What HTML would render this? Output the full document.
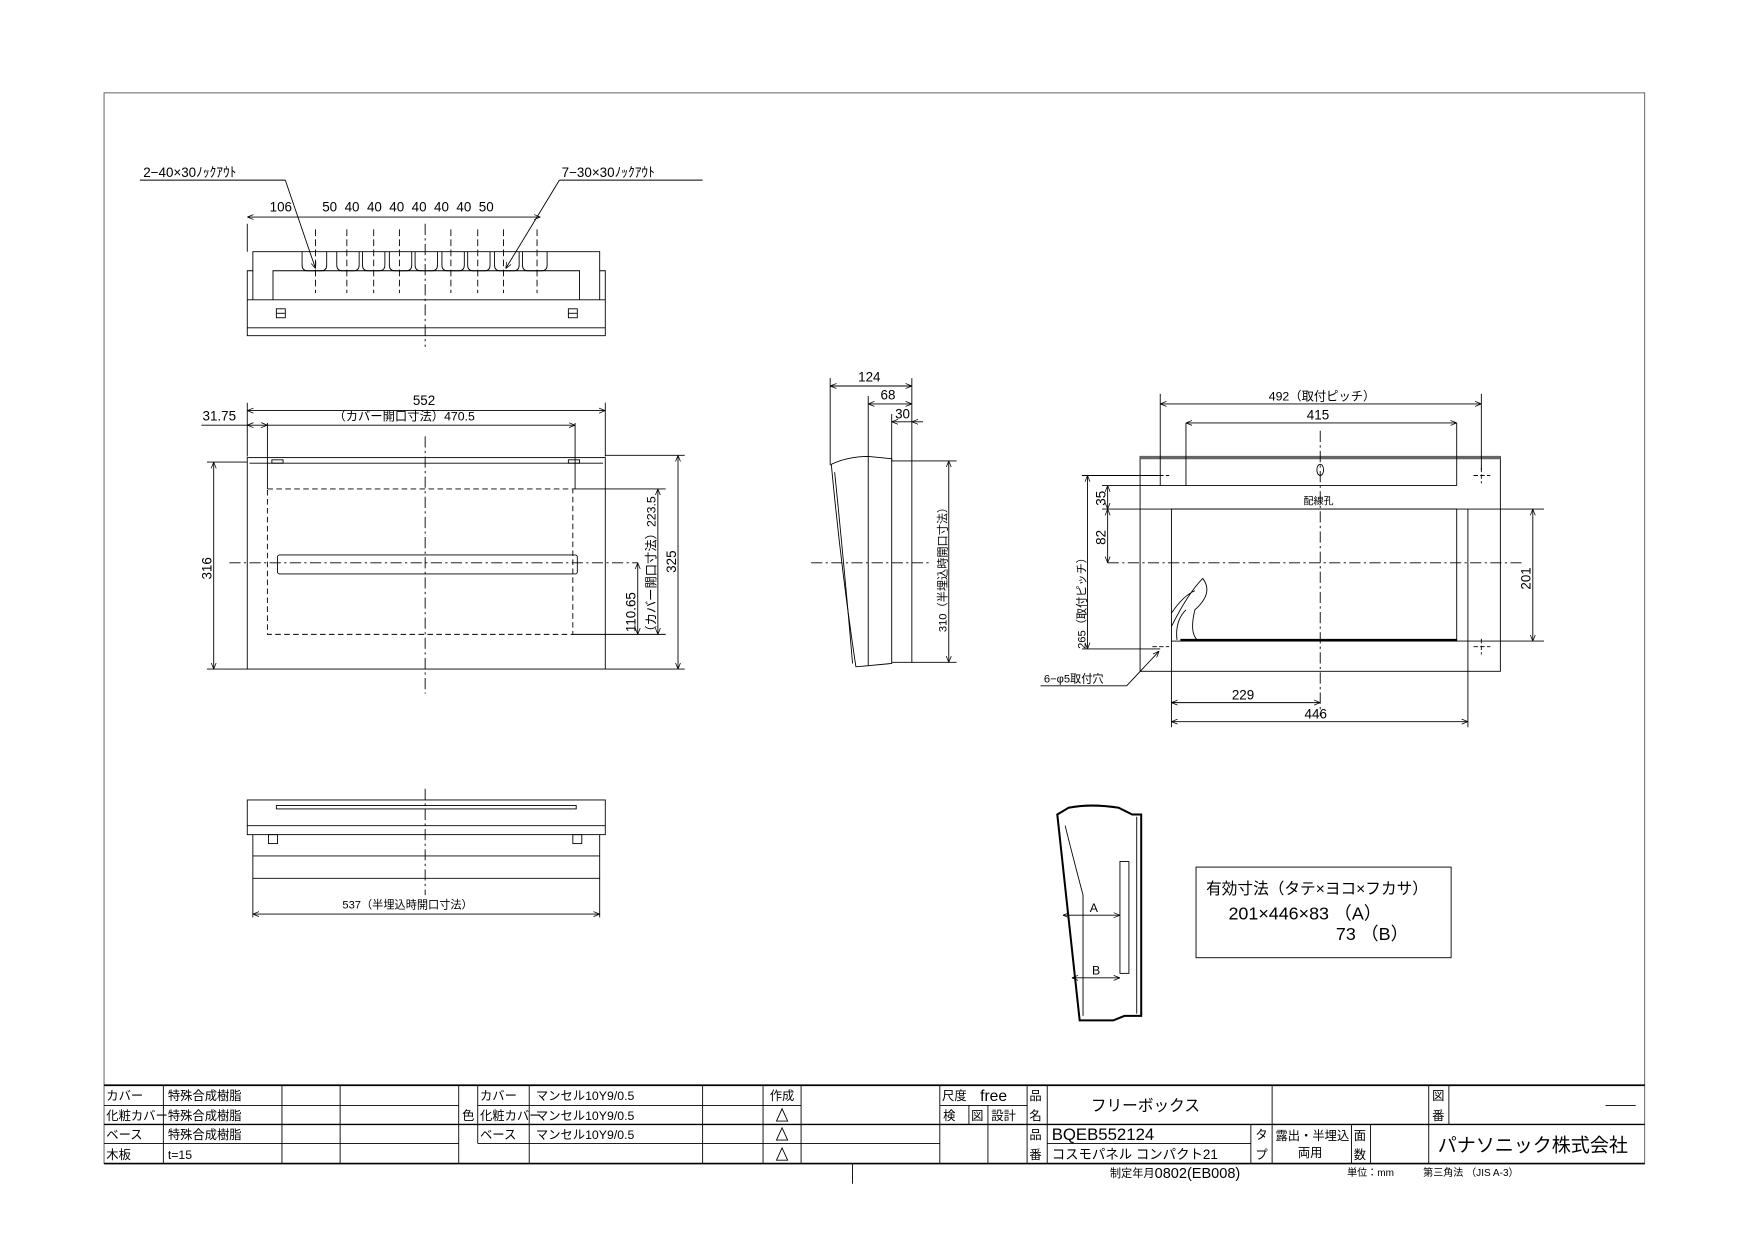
<!DOCTYPE html>
<html><head><meta charset="utf-8"><style>
html,body{margin:0;padding:0;background:#fff;}
svg{display:block;}
text{font-family:"Liberation Sans","Noto Sans CJK JP",sans-serif;fill:#000;}
</style></head><body>
<svg width="1755" height="1240" viewBox="0 0 1568.6 1108.3" xmlns="http://www.w3.org/2000/svg">
<defs>
<marker id="a" viewBox="0 0 10 10" refX="10" refY="5" markerWidth="7" markerHeight="7" orient="auto-start-reverse"><path d="M0,1 L10,5 L0,9" fill="none" stroke="#000" stroke-width="1.2"/></marker>
</defs>
<g fill="none" stroke="#000" stroke-width="0.8">
<rect x="93" y="83" width="1377" height="957" stroke="#555"/>

<!-- TOP VIEW -->
<path d="M221,300 L221,242 L226,242 L226,225 L536,225 L536,242 L541,242 L541,300 Z"/>
<path d="M226,242 L226,268 M536,242 L536,268 M244,268 L244,242 L518,242 L518,268"/>
<line x1="221" y1="293" x2="541" y2="293"/>
<line x1="221" y1="268" x2="541" y2="268"/>
<path d="M270,225 v12 q0,5 5,5 h12 q5,0 5,-5 v-12 M301,225 v12 q0,5 5,5 h10 q5,0 5,-5 v-12 M324,225 v12 q0,5 5,5 h10 q5,0 5,-5 v-12 M348,225 v12 q0,5 5,5 h10 q5,0 5,-5 v-12 M371,225 v12 q0,5 5,5 h10 q5,0 5,-5 v-12 M395,225 v12 q0,5 5,5 h10 q5,0 5,-5 v-12 M418,225 v12 q0,5 5,5 h10 q5,0 5,-5 v-12 M442,225 v12 q0,5 5,5 h12 q5,0 5,-5 v-12 M467,225 v12 q0,5 5,5 h12 q5,0 5,-5 v-12"/>
<rect x="247" y="276" width="8" height="8"/><line x1="247" y1="280" x2="255" y2="280"/>
<rect x="508" y="276" width="8" height="8"/><line x1="508" y1="280" x2="516" y2="280"/>
<line x1="380" y1="200" x2="380" y2="310" stroke-dasharray="10,3,2,3"/>
<g stroke-dasharray="6,3">
<line x1="282" y1="205" x2="282" y2="262"/><line x1="310" y1="205" x2="310" y2="262"/><line x1="334" y1="205" x2="334" y2="262"/><line x1="357" y1="205" x2="357" y2="262"/><line x1="403" y1="205" x2="403" y2="262"/><line x1="427" y1="205" x2="427" y2="262"/><line x1="450" y1="205" x2="450" y2="262"/><line x1="480" y1="205" x2="480" y2="262"/>
</g>
<line x1="221" y1="200" x2="221" y2="225"/>
<line x1="221" y1="194" x2="282" y2="194" marker-start="url(#a)"/>
<line x1="282" y1="194" x2="483" y2="194" marker-end="url(#a)"/>
<line x1="125" y1="161" x2="255" y2="161"/><line x1="255" y1="161" x2="282" y2="240" marker-end="url(#a)"/>
<line x1="500" y1="161" x2="628" y2="161"/><line x1="500" y1="161" x2="452" y2="240" marker-end="url(#a)"/>

<!-- FRONT VIEW -->
<rect x="221" y="409" width="320" height="189"/>
<line x1="223" y1="414" x2="539" y2="414"/>
<rect x="243" y="411" width="10" height="3"/><rect x="508" y="411" width="10" height="3"/>
<rect x="239" y="437" width="273" height="130" stroke-dasharray="5,3"/>
<rect x="248" y="496" width="268" height="17" rx="2"/>
<line x1="380" y1="390" x2="380" y2="620" stroke-dasharray="10,3,2,3"/>
<line x1="205" y1="503" x2="570" y2="503" stroke-dasharray="10,3,2,3"/>
<line x1="221" y1="360" x2="221" y2="408"/><line x1="541" y1="360" x2="541" y2="408"/>
<line x1="221" y1="367" x2="541" y2="367" marker-start="url(#a)" marker-end="url(#a)"/>
<line x1="239" y1="378" x2="239" y2="437"/><line x1="514" y1="378" x2="514" y2="437"/>
<line x1="180" y1="380" x2="221" y2="380"/>
<line x1="221" y1="380" x2="239" y2="380" marker-start="url(#a)" marker-end="url(#a)"/>
<line x1="239" y1="380" x2="514" y2="380" marker-end="url(#a)"/>
<line x1="185" y1="413" x2="221" y2="413"/><line x1="185" y1="598" x2="221" y2="598"/>
<line x1="191" y1="413" x2="191" y2="598" marker-start="url(#a)" marker-end="url(#a)"/>
<line x1="541" y1="407" x2="612" y2="407"/><line x1="541" y1="598" x2="612" y2="598"/>
<line x1="606" y1="407" x2="606" y2="598" marker-start="url(#a)" marker-end="url(#a)"/>
<line x1="512" y1="437" x2="595" y2="437"/><line x1="512" y1="567" x2="595" y2="567"/>
<line x1="588" y1="437" x2="588" y2="567" marker-start="url(#a)" marker-end="url(#a)"/>
<line x1="570" y1="503" x2="570" y2="567" marker-start="url(#a)" marker-end="url(#a)"/>

<!-- SIDE VIEW -->
<path d="M743,415 Q758,408 776,408 L776,595 L765,596 Q752,510 743,415 Z"/>
<path d="M746,422 Q755,510 762,593"/>
<path d="M776,408 L797,410 L797,593 L776,595"/>
<path d="M797,412 L815,412 L815,592 L797,592"/>
<line x1="742" y1="338" x2="742" y2="416"/><line x1="776" y1="354" x2="776" y2="408"/><line x1="797" y1="370" x2="797" y2="412"/><line x1="815" y1="338" x2="815" y2="412"/>
<line x1="742" y1="345" x2="815" y2="345" marker-start="url(#a)" marker-end="url(#a)"/>
<line x1="776" y1="361" x2="815" y2="361" marker-start="url(#a)" marker-end="url(#a)"/>
<line x1="797" y1="377" x2="815" y2="377" marker-start="url(#a)"/><line x1="815" y1="377" x2="825" y2="377" marker-start="url(#a)"/>
<line x1="815" y1="412" x2="855" y2="412"/><line x1="815" y1="592" x2="855" y2="592"/>
<line x1="848" y1="412" x2="848" y2="592" marker-start="url(#a)" marker-end="url(#a)"/>
<line x1="725" y1="503" x2="830" y2="503" stroke-dasharray="10,3,2,3"/>

<!-- RIGHT (BACK) VIEW -->
<rect x="1019" y="408" width="322" height="192"/>
<line x1="1019" y1="409" x2="1341" y2="409" stroke-width="3" stroke="#666"/>
<line x1="1019" y1="434" x2="1302" y2="434"/>
<line x1="1060" y1="378" x2="1060" y2="434"/><line x1="1302" y1="378" x2="1302" y2="434"/>
<rect x="1047" y="455" width="255" height="118"/>
<line x1="1055" y1="572" x2="1302" y2="572" stroke-width="2"/>
<path d="M1047,560 Q1062,530 1075,517 Q1085,530 1068,545 Q1063,565 1070,572 M1047,548 Q1058,532 1068,528 M1052,572 Q1050,555 1060,545"/>
<line x1="1180" y1="385" x2="1180" y2="640" stroke-dasharray="10,3,2,3"/>
<line x1="990" y1="503" x2="1360" y2="503" stroke-dasharray="10,3,2,3"/>
<ellipse cx="1180" cy="420" rx="3" ry="5"/>
<g stroke-dasharray="4,2">
<line x1="1030" y1="425" x2="1045" y2="425"/><line x1="1317" y1="425" x2="1332" y2="425"/><line x1="1324" y1="418" x2="1324" y2="432"/>
<line x1="1030" y1="578" x2="1045" y2="578"/><line x1="1317" y1="578" x2="1332" y2="578"/><line x1="1324" y1="571" x2="1324" y2="585"/>
</g>
<line x1="1037" y1="352" x2="1037" y2="434"/><line x1="1324" y1="352" x2="1324" y2="420"/>
<line x1="1037" y1="361" x2="1324" y2="361" marker-start="url(#a)" marker-end="url(#a)"/>
<line x1="1060" y1="378" x2="1302" y2="378" marker-start="url(#a)" marker-end="url(#a)"/>
<line x1="967" y1="425" x2="1037" y2="425"/><line x1="967" y1="580" x2="1037" y2="580"/>
<line x1="972" y1="425" x2="972" y2="580" marker-start="url(#a)" marker-end="url(#a)"/>
<line x1="985" y1="434" x2="1019" y2="434"/><line x1="985" y1="455" x2="1380" y2="455"/>
<line x1="990" y1="434" x2="990" y2="455" marker-start="url(#a)" marker-end="url(#a)"/>
<line x1="990" y1="455" x2="990" y2="503" marker-start="url(#a)" marker-end="url(#a)"/>
<line x1="1302" y1="573" x2="1380" y2="573"/>
<line x1="1370" y1="455" x2="1370" y2="573" marker-start="url(#a)" marker-end="url(#a)"/>
<line x1="1047" y1="573" x2="1047" y2="650"/><line x1="1312" y1="455" x2="1312" y2="650"/>
<line x1="1047" y1="628" x2="1180" y2="628" marker-start="url(#a)" marker-end="url(#a)"/>
<line x1="1047" y1="645" x2="1312" y2="645" marker-start="url(#a)" marker-end="url(#a)"/>
<line x1="930" y1="613" x2="1007" y2="613"/><line x1="1007" y1="613" x2="1036" y2="582" marker-end="url(#a)"/>

<!-- BOTTOM VIEW -->
<rect x="221" y="715" width="320" height="31"/>
<rect x="247" y="720" width="268" height="3"/>
<line x1="221" y1="738" x2="541" y2="738"/>
<rect x="240" y="746" width="8" height="8"/><rect x="512" y="746" width="8" height="8"/>
<path d="M226,746 L226,785 L536,785 L536,746 M226,765 L536,765"/>
<line x1="380" y1="705" x2="380" y2="800" stroke-dasharray="10,3,2,3"/>
<line x1="226" y1="785" x2="226" y2="820"/><line x1="536" y1="785" x2="536" y2="820"/>
<line x1="226" y1="817" x2="536" y2="817" marker-start="url(#a)" marker-end="url(#a)"/>

<!-- SECTION -->
<path d="M945,728 L955,722 Q975,718 1000,722 L1012,728 L1020,728 L1020,908 L1005,908 L995,912 L965,912 Q955,820 945,728 Z" stroke-width="1.8"/>
<path d="M952,738 Q960,770 968,800 L968,908 M1016,730 L1016,906"/>
<rect x="1001" y="770" width="8" height="100"/>
<line x1="950" y1="818" x2="1001" y2="818" marker-start="url(#a)" marker-end="url(#a)"/>
<line x1="958" y1="874" x2="1001" y2="874" marker-start="url(#a)" marker-end="url(#a)"/>

<rect x="1069" y="775" width="228" height="81"/>

<!-- TITLE BLOCK -->
<line x1="93" y1="970" x2="1470" y2="970" stroke-width="1.5"/>
<line x1="93" y1="1040" x2="1470" y2="1040" stroke-width="1.5"/>
<line x1="93" y1="988" x2="410" y2="988"/><line x1="427" y1="988" x2="682" y2="988"/><line x1="682" y1="988" x2="716" y2="988"/>
<line x1="93" y1="1005" x2="918" y2="1005" stroke-width="1.3"/><line x1="918" y1="1005" x2="1470" y2="1005" stroke-width="1.3"/>
<line x1="93" y1="1022" x2="410" y2="1022"/><line x1="427" y1="1022" x2="840" y2="1022"/><line x1="936" y1="1022" x2="1118" y2="1022"/>
<line x1="840" y1="988" x2="918" y2="988"/>
<g>
<line x1="146" y1="970" x2="146" y2="1040"/><line x1="252" y1="970" x2="252" y2="1040"/><line x1="304" y1="970" x2="304" y2="1040"/><line x1="410" y1="970" x2="410" y2="1040"/><line x1="427" y1="970" x2="427" y2="1022"/><line x1="473" y1="970" x2="473" y2="1040"/><line x1="628" y1="970" x2="628" y2="1040"/><line x1="682" y1="970" x2="682" y2="1040"/><line x1="716" y1="970" x2="716" y2="1040"/><line x1="840" y1="970" x2="840" y2="1040"/><line x1="866" y1="988" x2="866" y2="1005"/><line x1="883" y1="988" x2="883" y2="1040"/><line x1="918" y1="970" x2="918" y2="1040"/><line x1="936" y1="970" x2="936" y2="1040"/><line x1="1118" y1="1005" x2="1118" y2="1040"/><line x1="1137" y1="970" x2="1137" y2="1040"/><line x1="1208" y1="1005" x2="1208" y2="1040"/><line x1="1225" y1="1005" x2="1225" y2="1040"/><line x1="1277" y1="970" x2="1277" y2="1040"/><line x1="1295" y1="970" x2="1295" y2="1005"/>
</g>
<line x1="1435" y1="988" x2="1462" y2="988"/>
<line x1="762" y1="1040" x2="762" y2="1058"/>
<path d="M694,1002 L699,991 L704,1002 Z M694,1019 L699,1008 L704,1019 Z M694,1037 L699,1026 L704,1037 Z"/>
</g>

<!-- TEXT -->
<g font-size="12">
<text x="128" y="158">2−40×30ﾉｯｸｱｳﾄ</text>
<text x="502" y="158">7−30×30ﾉｯｸｱｳﾄ</text>
<text x="241" y="189">106</text>
<text x="288" y="189" xml:space="preserve">50  40  40  40  40  40  40  50</text>
<text x="369" y="362">552</text>
<text x="181" y="376">31.75</text>
<text x="298" y="376" font-size="11">（カバー開口寸法）470.5</text>
<text transform="translate(189,518) rotate(-90)">316</text>
<text transform="translate(604,512) rotate(-90)">325</text>
<text transform="translate(586,570) rotate(-90)" font-size="11">（カバー開口寸法）223.5</text>
<text transform="translate(568,565) rotate(-90)">110.65</text>
<text x="767" y="341">124</text>
<text x="787" y="357">68</text>
<text x="800" y="374">30</text>
<text transform="translate(846,565) rotate(-90)" font-size="10">310（半埋込時開口寸法）</text>
<text x="1134" y="358" font-size="11">492（取付ピッチ）</text>
<text x="1168" y="375">415</text>
<text x="1165" y="451" font-size="9">配線孔</text>
<text transform="translate(970,580) rotate(-90)" font-size="10">265（取付ピッチ）</text>
<text transform="translate(988,452) rotate(-90)">35</text>
<text transform="translate(988,487) rotate(-90)">82</text>
<text transform="translate(1368,527) rotate(-90)">201</text>
<text x="1101" y="625">229</text>
<text x="1166" y="642">446</text>
<text x="933" y="610" font-size="10">6−φ5取付穴</text>
<text x="306" y="812" font-size="10">537（半埋込時開口寸法）</text>
<text x="974" y="815" font-size="11">A</text>
<text x="976" y="871" font-size="11">B</text>
<text x="1078" y="799" font-size="14">有効寸法（タテ×ヨコ×フカサ）</text>
<text x="1098" y="822" font-size="16">201×446×83  （A）</text>
<text x="1194" y="840" font-size="16">73  （B）</text>
</g>
<g font-size="11">
<text x="95" y="983">カバー</text><text x="150" y="983">特殊合成樹脂</text>
<text x="95" y="1001">化粧カバー</text><text x="150" y="1001">特殊合成樹脂</text>
<text x="95" y="1018">ベース</text><text x="150" y="1018">特殊合成樹脂</text>
<text x="95" y="1036">木板</text><text x="150" y="1036">t=15</text>
<text x="413" y="1001">色</text>
<text x="429" y="983">カバー</text><text x="479" y="983">マンセル10Y9/0.5</text>
<text x="429" y="1001">化粧カバー</text><text x="479" y="1001">マンセル10Y9/0.5</text>
<text x="429" y="1018">ベース</text><text x="479" y="1018">マンセル10Y9/0.5</text>
<text x="688" y="983">作成</text>
<text x="842" y="983">尺度</text><text x="876" y="984" font-size="14">free</text>
<text x="843" y="1001">検</text><text x="868" y="1001">図</text><text x="886" y="1001">設計</text>
<text x="920" y="983">品</text><text x="920" y="1001">名</text>
<text x="920" y="1018">品</text><text x="920" y="1036">番</text>
<text x="975" y="993" font-size="14">フリーボックス</text>
<text x="940" y="1019" font-size="15">BQEB552124</text>
<text x="940" y="1036" font-size="12">コスモパネル  コンパクト21</text>
<text x="1122" y="1018">タ</text><text x="1122" y="1036">プ</text>
<text x="1140" y="1019">露出・半埋込</text><text x="1160" y="1034">両用</text>
<text x="1210" y="1019">面</text><text x="1210" y="1036">数</text>
<text x="1280" y="983">図</text><text x="1280" y="1001">番</text>
<text x="1285" y="1029" font-size="17">パナソニック株式会社</text>
<text x="992" y="1052" font-size="10">制定年月</text><text x="1032" y="1053" font-size="13">0802(EB008)</text>
<text x="1204" y="1051" font-size="9">単位：mm</text>
<text x="1272" y="1051" font-size="9">第三角法   （JIS A-3）</text>
</g>
</svg>
</body></html>
